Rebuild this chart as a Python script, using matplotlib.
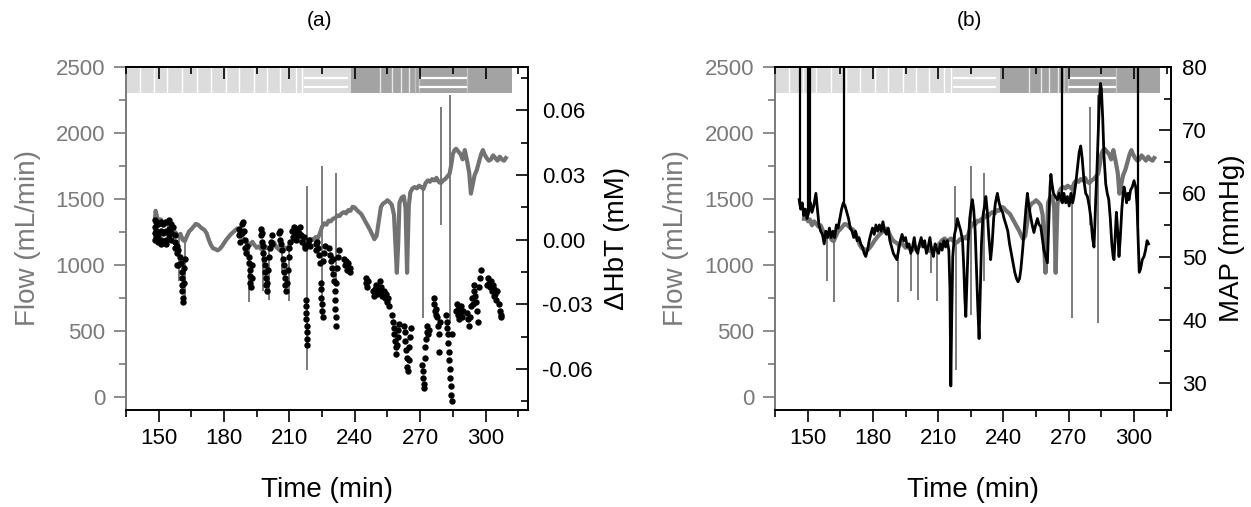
import matplotlib
matplotlib.use("Agg")
import matplotlib.pyplot as plt
from matplotlib.ticker import MultipleLocator, FormatStrFormatter

plt.rcParams['font.family'] = ['Liberation Sans', 'DejaVu Sans']

# ---------------- data ----------------
flow_t = [148.3, 148.6, 149.3, 150.2, 151.0, 152.0, 153.0, 154.0, 155.0, 156.0,
          157.0, 158.0, 159.0, 160.0, 161.0, 162.0, 163.0, 164.0, 165.0, 166.0,
          167.0, 168.0, 169.0, 170.0, 171.0, 172.0, 173.0, 174.0, 175.0, 176.0,
          177.0, 178.0, 179.0, 180.0, 181.0, 182.0, 183.0, 184.0, 185.0, 186.0,
          187.0, 188.0, 189.0, 190.0, 191.0, 192.0, 193.0, 194.0, 195.0, 196.0,
          197.0, 198.0, 199.0, 200.0, 201.0, 202.0, 203.0, 204.0, 205.0, 206.0,
          207.0, 208.0, 209.0, 210.0, 211.0, 212.0, 213.0, 214.0, 215.0, 216.0,
          217.0, 218.0, 219.0, 220.0, 221.0, 222.0, 223.0, 224.0, 225.0, 226.0,
          227.0, 228.0, 229.0, 230.0, 231.0, 232.0, 233.0, 234.0, 235.0, 236.0,
          237.0, 238.0, 239.0, 240.0, 241.0, 242.0, 243.0, 244.0, 245.0, 246.0,
          247.0, 248.0, 249.0, 250.0, 251.0, 252.0, 253.0, 254.0, 255.0, 256.0,
          257.0, 258.0, 258.7, 259.3, 259.9, 260.5, 261.5, 262.5, 263.3, 263.8,
          264.0, 264.3, 264.8, 265.5, 266.5, 267.5, 268.5, 269.5, 270.5, 271.5,
          272.5, 273.5, 274.5, 275.5, 276.5, 277.5, 278.5, 279.5, 280.5, 281.5,
          282.5, 283.5, 284.3, 285.0, 285.8, 286.5, 287.5, 288.5, 289.5, 290.5,
          291.5, 292.5, 293.3, 294.0, 295.0, 296.0, 297.0, 298.0, 298.8, 299.5,
          300.5, 301.5, 302.5, 303.5, 304.5, 305.5, 306.5, 307.5, 308.5, 309.3]
flow_v = [1350, 1410, 1360, 1330, 1345, 1300, 1330, 1310, 1290, 1300,
          1260, 1240, 1215, 1235, 1190, 1180, 1220, 1255, 1270, 1290,
          1310, 1305, 1290, 1275, 1265, 1240, 1190, 1150, 1125, 1120,
          1110, 1120, 1140, 1165, 1190, 1210, 1230, 1245, 1260, 1275,
          1260, 1220, 1190, 1175, 1165, 1150, 1175, 1150, 1130, 1140,
          1120, 1110, 1140, 1125, 1135, 1150, 1170, 1135, 1120, 1105,
          1110, 1130, 1120, 1150, 1170, 1190, 1200, 1180, 1190, 1200,
          1180, 1165, 1175, 1195, 1190, 1210, 1200, 1240, 1290, 1315,
          1305, 1335, 1330, 1350, 1355, 1375, 1370, 1390, 1400, 1390,
          1415, 1410, 1440, 1435, 1415, 1400, 1385, 1355, 1325, 1295,
          1265, 1230, 1195, 1220, 1330, 1440, 1465, 1475, 1490, 1475,
          1455, 1380, 1150, 940, 1150, 1470, 1510, 1520, 1430, 1100,
          940, 1150, 1450, 1550, 1580, 1590, 1580, 1600, 1590, 1575,
          1620, 1640, 1630, 1650, 1640, 1660, 1630, 1620, 1640, 1650,
          1670, 1690, 1760, 1840, 1870, 1880, 1860, 1840, 1800, 1870,
          1790, 1700, 1540, 1600, 1680, 1720, 1780, 1840, 1870, 1840,
          1810, 1790, 1800, 1830, 1810, 1790, 1820, 1800, 1790, 1810]

flow_spike_t = [159.1, 162.2, 191.6, 197.7, 200.5, 206.5, 209.6, 217.9, 218.1,
                225.0, 231.2, 271.5, 279.6, 283.5]
flow_spike_lo = [875, 715, 720, 800, 735, 940, 725, 1180, 205, 620, 880, 600, 1300, 560]
flow_spike_hi = [1225, 1185, 1165, 1110, 1130, 1110, 1140, 1600, 1170, 1750, 1700,
                 1580, 2200, 2290]

hbt_t = [148.3, 148.3, 148.3, 148.3, 148.8, 148.8, 148.8, 149.5, 149.5, 149.5,
         151.2, 151.2, 151.2, 151.2, 152.2, 152.2, 152.2, 153.2, 153.2, 153.2, 153.2,
         154.9, 154.9, 154.9, 155.8, 155.8, 155.8, 156.5,
         157.5, 157.5, 157.5, 158.2, 158.2, 158.2, 159.0, 159.0, 159.8, 160.3,
         160.5, 160.6, 160.8, 160.9, 161.0, 161.1, 161.5, 161.8, 162.2,
         186.9, 186.9, 187.5, 187.5, 188.2, 188.2, 188.8, 189.2, 189.5, 189.8, 190.2, 190.5,
         191.3, 191.5, 191.7, 191.9, 192.1, 192.3, 192.6, 192.9,
         196.8, 196.8, 197.2, 197.6, 197.8, 198.1, 198.4, 198.7, 199.0, 199.2,
         199.4, 199.6, 199.9, 200.3, 200.7, 201.1, 201.5, 201.9, 202.2,
         205.2, 205.5, 205.8, 206.2, 206.6, 207.0, 207.3, 207.6, 207.9, 208.2,
         208.5, 208.8, 209.2, 209.6, 210.0, 210.4,
         211.4, 211.8, 212.2, 212.6, 213.0, 213.5, 214.0, 214.5, 215.0, 215.5,
         216.0, 216.5, 217.0, 217.3, 217.5, 217.6, 217.7, 217.8, 217.9, 218.0,
         218.1, 218.2, 218.5, 219.0, 219.5,
         222.1, 222.4, 222.8, 223.2, 223.6, 224.0, 224.3, 224.5, 224.7, 224.9,
         225.1, 225.3, 225.6, 226.0, 226.4,
         228.2, 228.6, 229.0, 229.4, 229.8, 230.2, 230.5, 230.8, 231.0, 231.1,
         231.2, 231.3, 231.5, 231.9, 232.3, 232.7,
         235.1, 235.6, 236.1, 236.6, 237.1, 237.6, 238.0,
         245.0, 245.3, 245.6, 246.0,
         248.3, 248.7, 249.2, 249.7, 250.2, 250.7, 251.2, 251.7, 252.2, 252.7,
         253.2, 253.7, 254.2, 254.7, 255.2, 255.7,
         257.3, 257.6, 257.9, 258.2, 258.5, 258.8, 259.1, 259.4, 259.7, 260.0, 260.4,
         262.6, 262.9, 263.2, 263.5, 263.8, 264.1, 264.4, 264.7, 265.0, 265.3, 265.6,
         271.0, 271.2, 271.4, 271.6, 271.8, 272.1, 272.4, 272.7, 273.0, 273.3, 273.7, 274.0,
         276.2, 276.5, 276.8, 277.1, 277.5, 277.9, 278.2, 278.5, 278.8, 279.1,
         281.8, 282.1, 282.4, 282.7, 283.0, 283.2, 283.4, 283.6, 283.8, 284.0,
         284.2, 284.4, 284.7,
         286.4, 286.8, 287.2, 287.6, 288.0, 288.4, 288.8, 289.2, 289.6,
         291.7, 292.1, 292.5, 292.9, 293.3, 293.7, 294.1, 294.5, 294.9, 295.3,
         295.7, 296.1, 296.5, 296.9, 297.3, 297.7,
         300.9, 301.3, 301.7, 302.1, 302.5, 302.9, 303.3, 303.7, 304.1, 304.5,
         305.0, 305.5, 306.0, 306.5, 307.0, 307.3]
hbt_v = [0.009, 0.006, 0.003, 0.000, 0.008, 0.004, 0.001, 0.007, 0.002, -0.001,
         0.008, 0.004, 0.000, -0.002, 0.007, 0.003, -0.001, 0.008, 0.004, 0.000, -0.002,
         0.009, 0.005, 0.002, 0.007, 0.003, 0.000, 0.006,
         0.002, -0.001, -0.004, -0.003, -0.006, -0.012, -0.005, -0.012, -0.008, -0.011,
         -0.015, -0.018, -0.021, -0.024, -0.027, -0.029, -0.020, -0.013, -0.009,
         0.005, 0.002, 0.003, -0.001, 0.007, 0.003, 0.008, 0.004, 0.000, -0.004, -0.006, -0.003,
         -0.008, -0.011, -0.014, -0.017, -0.020, -0.022, -0.018, -0.012,
         0.005, 0.002, -0.001, 0.003, -0.003, -0.006, -0.009, -0.012, -0.015, -0.018,
         -0.021, -0.024, -0.020, -0.014, -0.008, -0.004, -0.001, 0.002, -0.002,
         0.003, 0.000, 0.004, -0.002, -0.005, -0.009, -0.012, -0.015, -0.018, -0.021,
         -0.024, -0.020, -0.014, -0.008, -0.004, -0.001,
         0.004, 0.001, 0.006, 0.003, 0.000, 0.005, 0.002, 0.003, 0.006, 0.002,
         -0.001, 0.001, -0.003, -0.004, -0.028, -0.031, -0.034, -0.037, -0.040, -0.043,
         -0.046, -0.049, -0.002, 0.000, -0.003,
         -0.002, -0.005, -0.001, -0.004, -0.007, -0.011, -0.020, -0.023, -0.027, -0.030,
         -0.033, -0.036, -0.010, -0.006, -0.003,
         -0.004, -0.007, -0.010, -0.013, -0.009, -0.016, -0.019, -0.024, -0.028, -0.032,
         -0.036, -0.040, -0.020, -0.013, -0.008, -0.005,
         -0.009, -0.012, -0.010, -0.014, -0.011, -0.013, -0.015,
         -0.018, -0.020, -0.022, -0.019,
         -0.024, -0.026, -0.023, -0.021, -0.025, -0.022, -0.024, -0.019, -0.022, -0.026,
         -0.024, -0.027, -0.025, -0.029, -0.027, -0.031,
         -0.035, -0.038, -0.041, -0.044, -0.047, -0.050, -0.053, -0.049, -0.045, -0.042, -0.039,
         -0.040, -0.043, -0.047, -0.051, -0.055, -0.059, -0.061, -0.056, -0.050, -0.045, -0.041,
         -0.058, -0.061, -0.064, -0.067, -0.069, -0.055, -0.050, -0.046, -0.043, -0.040, -0.044, -0.042,
         -0.027, -0.030, -0.033, -0.035, -0.032, -0.036, -0.040, -0.044, -0.052, -0.038,
         -0.035, -0.038, -0.041, -0.044, -0.048, -0.052, -0.056, -0.060, -0.064, -0.068,
         -0.072, -0.075, -0.044,
         -0.033, -0.030, -0.035, -0.032, -0.037, -0.034, -0.031, -0.036, -0.033,
         -0.034, -0.037, -0.040, -0.036, -0.031, -0.027, -0.030, -0.024, -0.021, -0.026,
         -0.029, -0.033, -0.038, -0.022, -0.018, -0.014,
         -0.021, -0.018, -0.020, -0.022, -0.019, -0.024, -0.021, -0.026, -0.023, -0.025,
         -0.028, -0.024, -0.030, -0.033, -0.036, -0.035]

map_t = [146.1, 146.8, 147.5, 148.2, 149.0, 149.7, 150.5, 151.3, 152.0, 152.8,
         153.8, 154.5, 155.2, 156.0, 156.8, 157.6, 158.4, 159.2, 160.0, 160.8,
         161.6, 162.4, 163.2, 164.0, 164.8, 165.6, 166.4, 167.2, 168.0, 168.8,
         169.6, 170.4, 171.2, 172.0, 172.8, 173.6, 174.4, 175.2, 176.0, 176.7,
         177.5, 178.3, 179.0, 179.8, 180.6, 181.4, 182.2, 183.0, 183.8, 184.6,
         185.4, 186.2, 187.0, 187.8, 188.6, 189.4, 190.2, 191.0, 191.8, 192.6,
         193.4, 194.2, 195.0, 195.8, 196.6, 197.4, 198.2, 199.0, 199.8, 200.6,
         201.4, 202.2, 203.0, 203.8, 204.6, 205.4, 206.2, 207.0, 207.8, 208.6,
         209.4, 210.2, 211.0, 211.8, 212.6, 213.4, 214.2, 214.9, 215.4, 215.8,
         216.2, 216.7, 217.5, 218.2, 218.8, 219.6, 220.4, 221.2, 221.8, 222.3,
         222.7, 223.2, 223.8, 224.5, 225.2, 225.7, 226.3, 227.0, 227.6, 228.2,
         228.8, 229.3, 229.9, 230.6, 231.3, 231.9, 232.6, 233.3, 234.1, 234.8,
         235.5, 236.3, 237.2, 238.0, 238.8, 239.6, 240.3, 241.2, 242.0, 242.8,
         243.6, 244.4, 245.2, 246.0, 246.7, 247.4, 248.0, 248.8, 249.6, 250.3,
         251.0, 251.7, 252.4, 253.2, 254.0, 254.8, 255.6, 256.4, 257.1, 257.8,
         258.6, 259.4, 260.2, 260.8, 261.4, 261.8, 262.3, 263.0, 263.8, 264.8,
         265.6, 266.4, 267.1, 267.8, 268.6, 269.4, 270.2, 271.0, 271.8, 272.4,
         273.2, 274.0, 274.8, 275.5, 276.2, 277.0, 277.8, 278.6, 279.4, 280.2,
         280.9, 281.6, 282.0, 282.4, 283.0, 283.6, 284.1, 284.6, 285.0, 285.6,
         286.2, 287.0, 287.7, 288.4, 289.1, 289.8, 290.4, 290.8, 291.3, 291.9,
         292.5, 293.1, 293.7, 294.4, 295.0, 295.4, 296.0, 296.6, 297.2, 297.7,
         298.4, 299.2, 300.0, 300.8, 301.4, 302.0, 302.4, 303.0, 303.8, 304.6,
         305.3, 306.0, 306.7]
map_v = [59.0, 57.5, 58.5, 56.5, 57.5, 56.0, 57.0, 58.5, 57.0, 58.0,
         60.0, 57.5, 55.0, 54.0, 53.5, 52.0, 54.0, 53.0, 54.5, 53.0,
         54.0, 53.0, 55.0, 54.5, 56.0, 57.5, 58.5, 58.0, 57.0, 56.0,
         54.5, 54.0, 53.0, 54.0, 52.5, 53.0, 52.0, 51.5, 50.5, 50.0,
         51.0, 52.5, 53.5, 54.5, 53.5, 55.0, 54.0, 55.0, 54.0, 55.5,
         54.0, 53.5, 54.5, 52.5, 51.5, 50.5, 50.0, 49.5, 51.0, 52.5,
         53.5, 52.5, 53.0, 51.5, 52.0, 50.5, 51.5, 53.0, 51.0, 50.5,
         52.0, 53.0, 51.5, 52.5, 50.5, 51.5, 53.0, 51.0, 50.0, 52.0,
         51.0, 50.5, 52.0, 51.0, 52.5, 51.5, 52.5, 51.0, 45.0, 29.5,
         40.0, 50.0, 53.5, 54.5, 56.0, 55.0, 54.0, 52.5, 48.0, 43.0,
         40.5, 46.0, 52.0, 56.0, 58.0, 59.0, 57.5, 54.0, 48.0, 42.0,
         37.0, 44.0, 52.0, 56.5, 58.0, 59.5, 57.0, 53.0, 49.5, 52.0,
         56.0, 58.5, 60.0, 58.5, 57.5, 57.0, 56.0, 55.0, 54.0, 52.0,
         50.5, 49.0, 47.5, 46.5, 46.0, 46.5, 48.0, 51.0, 54.5, 57.5,
         60.0, 58.0, 56.5, 55.0, 53.8, 55.0, 56.0, 55.0, 54.8, 53.0,
         51.0, 50.0, 49.0, 55.0, 61.0, 63.0, 61.5, 60.0, 59.5, 59.0,
         60.0, 59.0, 58.5, 60.0, 58.5, 59.5, 58.0, 60.0, 58.5, 59.5,
         61.5, 64.0, 66.5, 67.5, 65.5, 62.0, 60.0, 59.5, 58.0, 56.0,
         53.0, 51.5, 55.0, 59.0, 64.0, 70.0, 75.0, 77.4, 76.5, 72.0,
         66.0, 61.5, 60.0, 59.0, 56.0, 52.0, 50.0, 49.5, 53.0, 57.0,
         54.0, 50.0, 53.0, 57.5, 60.0, 61.0, 60.0, 58.5, 60.0, 59.0,
         60.5, 61.0, 62.0, 61.0, 58.0, 52.0, 47.5, 48.0, 49.5, 50.0,
         51.0, 52.5, 52.0]

map_spike_t = [146.4, 150.2, 151.0, 166.8, 267.1, 301.8]
map_spike_lo = [58.0, 57.0, 57.5, 58.0, 58.5, 55.0]
map_spike_hi = [82.0, 82.0, 82.0, 82.0, 82.0, 82.0]

# protocol band (top strip)
band_light = (135.6, 238.4)
band_dark = (238.4, 312.0)
band_light_vlines = [141.4, 147.9, 154.0, 160.9, 167.5, 173.9, 180.8, 186.9,
                     193.8, 199.9, 205.9, 212.8, 216.0]
band_light_hlines = (216.6, 236.8)
band_dark_vlines = [251.7, 257.3, 261.1, 265.0]
band_dark_box = (269.6, 291.5)
band_edge_lines = [267.6, 269.6, 291.5]
band_hline_levels = [2419, 2346]
band_bottom, band_top = 2303, 2500

# ---------------- style ----------------
GRAY = '#727272'
AXGRAY = '#7a7a7a'
TICK_FS = 16
LABEL_FS = 20
W, H = 1251, 507

fig = plt.figure(figsize=(W / 100, H / 100), dpi=100)
axA = fig.add_axes([126 / W, 1 - 410 / H, 402 / W, 343 / H])
axB = fig.add_axes([775 / W, 1 - 410 / H, 396 / W, 343 / H])


def draw_band(ax):
    ax.fill_between(band_light, band_bottom, band_top, color='#dcdcdc', lw=0, zorder=4)
    ax.fill_between(band_dark, band_bottom, band_top, color='#a3a3a3', lw=0, zorder=4)
    ax.vlines(band_light_vlines, band_bottom, band_top, colors='white', lw=1.0, zorder=5)
    ax.hlines(band_hline_levels, band_light_hlines[0], band_light_hlines[1],
              colors='white', lw=1.6, zorder=5)
    ax.vlines(band_dark_vlines, band_bottom, band_top, colors='#e8e8e8', lw=1.0, zorder=5)
    ax.vlines(band_edge_lines, band_bottom, band_top, colors='#c4c4c4', lw=1.0, zorder=5)
    ax.hlines(band_hline_levels, band_dark_box[0], band_dark_box[1],
              colors='white', lw=1.6, zorder=5)


def setup_flow_axis(ax, xmax):
    ax.set_xlim(135, xmax)
    ax.set_ylim(-100, 2500)
    ax.xaxis.set_major_locator(MultipleLocator(30))
    ax.xaxis.set_minor_locator(MultipleLocator(15))
    ax.yaxis.set_major_locator(MultipleLocator(500))
    ax.yaxis.set_minor_locator(MultipleLocator(250))
    ax.tick_params(axis='x', which='both', direction='out', bottom=True, top=False,
                   labelsize=TICK_FS, pad=4.5, width=1.2, colors='black')
    ax.tick_params(axis='x', which='major', length=8.5)
    ax.tick_params(axis='x', which='minor', length=5)
    ax.tick_params(axis='y', which='both', direction='out', left=True, right=False,
                   labelsize=TICK_FS, pad=6.5, width=1.2, colors=AXGRAY)
    ax.tick_params(axis='y', which='major', length=8.5)
    ax.tick_params(axis='y', which='minor', length=5)
    ax.spines['right'].set_visible(False)
    ax.spines['left'].set_color(AXGRAY)
    for s in ['left', 'top', 'bottom']:
        ax.spines[s].set_linewidth(1.4)
    ax.set_xlabel('Time (min)', fontsize=LABEL_FS, va='center')
    ax.xaxis.set_label_coords(0.5, -0.233)
    ax.set_ylabel('Flow (mL/min)', fontsize=LABEL_FS, color=AXGRAY, va='center')


def setup_right_axis(ax2, pad):
    for s in ['left', 'bottom']:
        ax2.spines[s].set_visible(False)
    ax2.spines['right'].set_linewidth(1.4)
    ax2.spines['top'].set_linewidth(1.4)
    ax2.tick_params(axis='y', which='both', direction='in', left=False, right=True,
                    labelsize=TICK_FS, pad=pad, width=1.2, colors='black')
    ax2.tick_params(axis='y', which='major', length=8.5)
    ax2.tick_params(axis='y', which='minor', length=5)
    # inward ticks along the top edge, drawn above the protocol strip
    ax2.xaxis.set_visible(True)
    ax2.tick_params(axis='x', which='both', direction='in', top=True, bottom=False,
                    labeltop=False, labelbottom=False, width=1.2, colors='black')
    ax2.tick_params(axis='x', which='major', length=8.5)
    ax2.tick_params(axis='x', which='minor', length=5)


# ---------------- panel (a) ----------------
axA.plot(flow_t, flow_v, color=GRAY, lw=3.0, solid_joinstyle='round', zorder=2)
axA.vlines(flow_spike_t, flow_spike_lo, flow_spike_hi, colors=GRAY, lw=1.3, zorder=2)
draw_band(axA)
setup_flow_axis(axA, 319.5)
axA.yaxis.set_label_coords(-0.244, 0.5)

axA2 = axA.twinx()
axA2.plot(hbt_t, hbt_v, 'o', color='black', ms=4.6, mew=0)
axA2.set_ylim(-0.079, 0.08)
axA2.yaxis.set_major_locator(MultipleLocator(0.03))
axA2.yaxis.set_minor_locator(MultipleLocator(0.015))
axA2.yaxis.set_major_formatter(FormatStrFormatter('%.2f'))
setup_right_axis(axA2, 10)
axA2.set_ylabel('\u0394HbT (mM)', fontsize=LABEL_FS, va='center', rotation=90)
axA2.yaxis.set_label_coords(1.221, 0.5)

# ---------------- panel (b) ----------------
axB.plot(flow_t, flow_v, color=GRAY, lw=3.0, solid_joinstyle='round', zorder=2)
axB.vlines(flow_spike_t, flow_spike_lo, flow_spike_hi, colors=GRAY, lw=1.3, zorder=2)
draw_band(axB)
setup_flow_axis(axB, 317.0)
axB.yaxis.set_label_coords(-0.25, 0.5)

axB2 = axB.twinx()
axB2.plot(map_t, map_v, color='black', lw=2.0, solid_joinstyle='round')
axB2.vlines(map_spike_t, map_spike_lo, map_spike_hi, colors='black', lw=1.6)
axB2.set_ylim(25.7, 80)
axB2.yaxis.set_major_locator(MultipleLocator(10))
axB2.yaxis.set_minor_locator(MultipleLocator(5))
setup_right_axis(axB2, 8)
axB2.set_ylabel('MAP (mmHg)', fontsize=LABEL_FS, va='center', rotation=90)
axB2.yaxis.set_label_coords(1.154, 0.5)

fig.text(320 / W, 1 - 20 / H, '(a)', fontsize=15, ha='center', va='center')
fig.text(969 / W, 1 - 20 / H, '(b)', fontsize=15, ha='center', va='center')

fig.savefig('out.png', dpi=100)
